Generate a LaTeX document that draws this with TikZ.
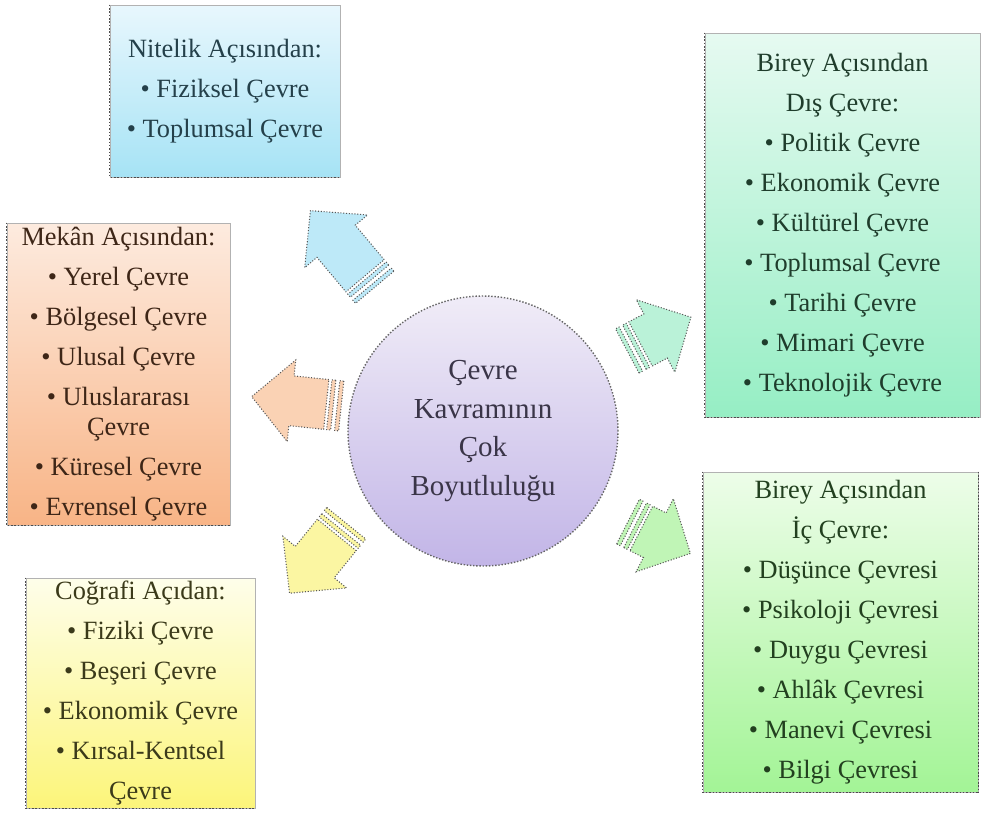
\documentclass[tikz,border=0pt]{standalone}
\usepackage{fontspec}
\setmainfont{Liberation Serif}
\usetikzlibrary{calc}
\definecolor{blueTop}{HTML}{E8F7FD}
\definecolor{blueBot}{HTML}{A6E3F5}
\definecolor{orgTop}{HTML}{FDEBDF}
\definecolor{orgBot}{HTML}{F8B486}
\definecolor{yelTop}{HTML}{FEFEEA}
\definecolor{yelBot}{HTML}{FCF57A}
\definecolor{mintTop}{HTML}{E6FAF1}
\definecolor{mintBot}{HTML}{96EEC4}
\definecolor{grnTop}{HTML}{EDFDE9}
\definecolor{grnBot}{HTML}{A3F496}
\definecolor{lilTop}{HTML}{F0ECF7}
\definecolor{lilBot}{HTML}{C2B5E7}
\definecolor{blueArr}{HTML}{BDE9F8}
\definecolor{orgArr}{HTML}{FAD2B4}
\definecolor{yelArr}{HTML}{FBF6A2}
\definecolor{mintArr}{HTML}{BAF2D8}
\definecolor{grnArr}{HTML}{C0F5B6}
\definecolor{blueTxt}{HTML}{24404A}
\definecolor{orgTxt}{HTML}{3E2617}
\definecolor{yelTxt}{HTML}{3B3A1A}
\definecolor{mintTxt}{HTML}{1F3D2C}
\definecolor{grnTxt}{HTML}{22401F}
\definecolor{lilTxt}{HTML}{3A3548}
\newcommand{\boxfont}{\fontsize{15}{22.8}\selectfont}
\newcommand{\corefont}{\fontsize{16.5}{22}\selectfont}

\tikzset{
  pics/stripedarrow/.style 2 args={code={
    \filldraw[arrowline, fill=#2] (15,-25) -- ({#1-40},-25) -- ({#1-40},-41)
      -- (#1,0) -- ({#1-40},41) -- ({#1-40},25) -- (15,25) -- cycle;
    \filldraw[arrowline, fill=#2] (0,-25) rectangle (4,25) (8,-25) rectangle (12,25);
  }},
}

\begin{document}
\begin{tikzpicture}[
  x=0.02cm, y=0.02cm,
  infobox/.style={draw=gray!60, thin, inner sep=0pt, align=center,
                  font=\boxfont},
  core/.style={circle, draw=black!60, densely dotted, line width=0.8pt,
               top color=lilTop, bottom color=lilBot, minimum size=5.4cm,
               align=center, font=\corefont, text=lilTxt},
  shadowdots/.style={densely dotted, line width=0.9pt, black!70},
  arrowline/.style={draw=black!65, densely dotted, line width=0.6pt},
]
\useasboundingbox (0,0) rectangle (986,-821);

% central circle
\node[core] (core) at (483,-431) {Çevre\\Kavramının\\Çok\\Boyutluluğu};

% five boxes
\node[infobox, top color=blueTop, bottom color=blueBot, text=blueTxt,
      minimum width=4.6cm, minimum height=3.44cm] (nitelik) at (225,-91)
  {Nitelik Açısından:\\• Fiziksel Çevre\\• Toplumsal Çevre};
\node[infobox, top color=orgTop, bottom color=orgBot, text=orgTxt,
      minimum width=4.46cm, minimum height=6.04cm] (mekan) at (118.5,-374)
  {Mekân Açısından:\\• Yerel Çevre\\• Bölgesel Çevre\\• Ulusal Çevre\\
   • Uluslararası\\[-0.2cm]Çevre\\• Küresel Çevre\\• Evrensel Çevre};
\node[infobox, top color=yelTop, bottom color=yelBot, text=yelTxt,
      minimum width=4.58cm, minimum height=4.6cm] (cografi) at (140.5,-693)
  {Coğrafi Açıdan:\\• Fiziki Çevre\\• Beşeri Çevre\\• Ekonomik Çevre\\
   • Kırsal-Kentsel\\Çevre};
\node[infobox, top color=mintTop, bottom color=mintBot, text=mintTxt,
      minimum width=5.5cm, minimum height=7.68cm] (dis) at (842.5,-225)
  {Birey Açısından\\Dış Çevre:\\• Politik Çevre\\• Ekonomik Çevre\\
   • Kültürel Çevre\\• Toplumsal Çevre\\• Tarihi Çevre\\• Mimari Çevre\\
   • Teknolojik Çevre};
\node[infobox, top color=grnTop, bottom color=grnBot, text=grnTxt,
      minimum width=5.5cm, minimum height=6.4cm] (ic) at (840.5,-632)
  {Birey Açısından\\İç Çevre:\\• Düşünce Çevresi\\• Psikoloji Çevresi\\
   • Duygu Çevresi\\• Ahlâk Çevresi\\• Manevi Çevresi\\• Bilgi Çevresi};

% dotted shadow edges
\foreach \b in {nitelik, mekan, cografi, dis, ic}
  \draw[shadowdots] (\b.north west) -- (\b.south west) -- (\b.south east);
\draw[shadowdots] (ic.north east) -- (ic.south east);

% striped block arrows round the circle
\pic[rotate=130] at ($(core)+(127:180)$) {stripedarrow={100}{blueArr}};
\pic[rotate=174] at ($(core)+(170:144)$) {stripedarrow={90}{orgArr}};
\pic[rotate=231] at ($(core)+(214:165)$) {stripedarrow={90}{yelArr}};
\pic[rotate=28]  at ($(core)+(29:165)$)  {stripedarrow={72}{mintArr}};
\pic[rotate=-27] at ($(core)+(-32:171)$) {stripedarrow={70}{grnArr}};
\end{tikzpicture}
\end{document}
